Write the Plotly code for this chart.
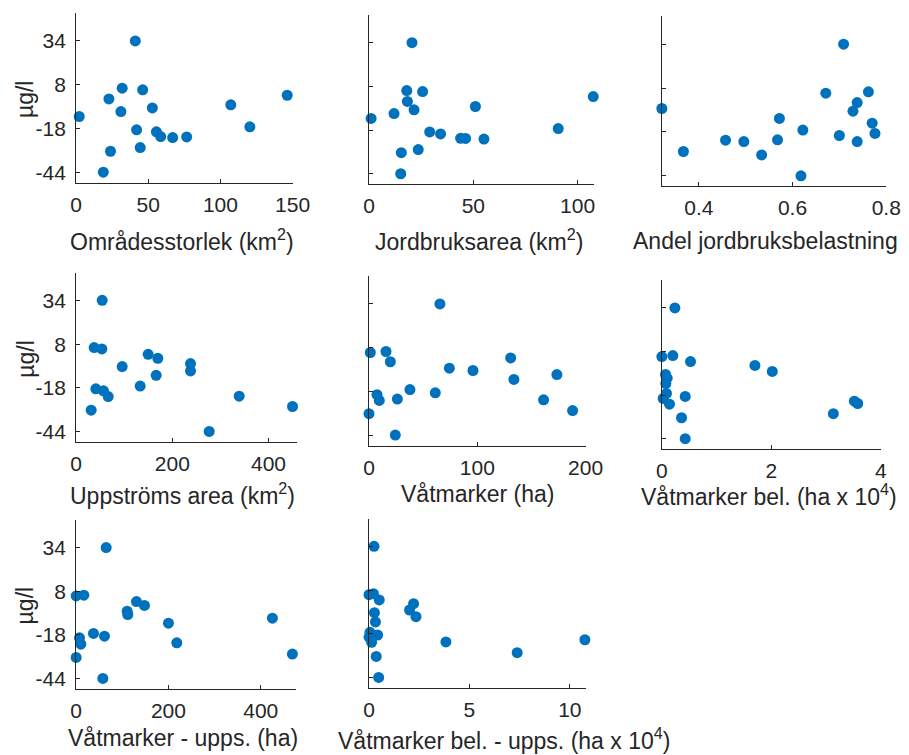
import plotly.graph_objects as go

# ---------------- data ----------------
omr_x = [41.0, 31.9, 46.1, 146.3, 22.7, 107.2, 52.8, 31.0, 2.1, 120.4, 41.9, 55.6, 58.6, 76.6, 66.9, 44.4, 23.8, 18.8]
omr_y = [34, 6.0, 5.0, 1.8, -0.4, -3.9, -5.7, -7.9, -10.8, -16.9, -18.7, -19.9, -22.7, -22.9, -23.3, -29.2, -31.4, -43.8]

jord_x = [20.6, 18.1, 25.7, 107.5, 18.4, 51.0, 21.6, 12.0, 1.0, 90.7, 29.1, 34.3, 43.9, 46.3, 55.1, 23.6, 15.5, 15.2]
jord_y = [34, 5.5, 4.9, 1.9, -1.0, -4.0, -6.0, -8.2, -11.1, -17.1, -19.1, -20.3, -22.9, -23.0, -23.4, -29.6, -31.5, -44]

andel_x = [0.709, 0.671, 0.762, 0.738, 0.729, 0.321, 0.572, 0.770, 0.622, 0.776, 0.700, 0.496, 0.457, 0.568, 0.738, 0.367, 0.534, 0.618]
andel_y = [34, 5.0, 5.8, -0.6, -5.7, -4.1, -10.0, -12.8, -16.9, -18.9, -20.1, -23.7, -22.9, -22.7, -23.7, -29.6, -31.6, -44]

upp_x = [54.1, 37.4, 53.4, 149.7, 169.8, 237.8, 237.8, 95.7, 166.4, 133.1, 40.9, 56.8, 66.6, 339.0, 31.2, 449.9, 276.6]
upp_y = [34, 6.0, 5.2, 2.0, -0.4, -3.5, -7.9, -5.3, -10.5, -16.9, -18.5, -19.7, -23.1, -22.9, -31.2, -29.0, -43.8]

vat_x = [65.5, 1.2, 15.7, 19.7, 130.8, 74.2, 96.0, 133.8, 173.5, 37.8, 61.2, 7.4, 9.5, 26.2, 161.2, 0.0, 188.0, 24.3]
vat_y = [34, 5.1, 5.7, -0.4, 1.9, -4.2, -5.6, -10.9, -8.0, -16.9, -18.9, -20.0, -23.4, -22.6, -23.0, -31.3, -29.4, -44]

vatbel_x = [0.238, 0.0, 0.201, 0.524, 1.701, 2.018, 0.067, 0.098, 0.073, 0.085, 0.427, 0.024, 0.140, 3.518, 3.579, 3.134, 0.360, 0.427]
vatbel_y = [34, 5.0, 5.6, 2.0, -0.3, -3.9, -5.7, -7.9, -11.1, -17.0, -18.8, -20.0, -23.4, -21.6, -23.0, -29.1, -31.5, -44]

vatupp_x = [65.0, 0.0, 16.6, 130.7, 148.0, 110.5, 111.9, 425.3, 200.0, 37.5, 61.4, 7.2, 10.1, 218.1, 0.0, 468.6, 57.8]
vatupp_y = [34, 5.2, 5.6, 1.8, -0.5, -3.9, -5.9, -8.1, -11.1, -17.2, -18.8, -19.8, -23.6, -22.8, -31.5, -29.5, -44]

vatbelupp_x = [0.25, 0.0, 0.22, 0.51, 2.22, 2.02, 2.34, 0.27, 0.32, 0.05, 0.43, 0.0, 0.13, 3.83, 10.75, 7.38, 0.36, 0.48]
vatbelupp_y = [34, 5.2, 5.8, 2.1, -0.1, -3.9, -7.9, -5.5, -11.0, -17.2, -18.8, -20.0, -23.1, -22.9, -21.6, -29.3, -31.5, -44]

y_ticks = [-44, -18, 8, 34]
y_tick_labels = ["-44", "-18", "8", "34"]
y_label = "µg/l"

titles = [
    "Områdesstorlek (km<sup>2</sup>)",
    "Jordbruksarea (km<sup>2</sup>)",
    "Andel jordbruksbelastning",
    "Uppströms area (km<sup>2</sup>)",
    "Våtmarker (ha)",
    "Våtmarker bel. (ha x 10<sup>4</sup>)",
    "Våtmarker - upps. (ha)",
    "Våtmarker bel. - upps. (ha x 10<sup>4</sup>)",
]
x_ticks = [
    [0, 50, 100, 150],
    [0, 50, 100],
    [0.4, 0.6, 0.8],
    [0, 200, 400],
    [0, 100, 200],
    [0, 2, 4],
    [0, 200, 400],
    [0, 5, 10],
]
xs = [omr_x, jord_x, andel_x, upp_x, vat_x, vatbel_x, vatupp_x, vatbelupp_x]
ys = [omr_y, jord_y, andel_y, upp_y, vat_y, vatbel_y, vatupp_y, vatbelupp_y]

# ---------------- layout geometry (target pixels in the screenshot) ----------------
OFF = 8             # page body margin
SX, BX = 0.975, 6   # observed horizontal mapping of the photographed page
W, H = 940, 755
x_ranges = [[0, 150], [0, 107.8], [0.321, 0.8], [0, 458.7], [0, 200], [0, 4], [0, 476.5], [0, 10.8]]
y_range = [-50.2, 50.5]
boxes = [  # left, right, top, bottom
    (76, 292.5, 13.1, 183.2),
    (369, 594, 14.9, 184.4),
    (662, 886.5, 16.4, 186.5),
    (76, 296.7, 272.9, 442.8),
    (369, 585.7, 276.5, 446.1),
    (662, 881, 280.6, 449.7),
    (76, 296, 520.6, 689.7),
    (369, 586, 519.3, 688.7),
]
title_pos = [(182, 240), (479, 240), (766, 241), (182.5, 495), (477.5, 495),
             (769, 496), (183, 739), (504.5, 740)]
ylab_pos = [(25, 99), (25, 359), (25, 606)]


def fx(px):
    return ((px - BX) / SX - OFF) / W


def fy(py):
    return 1 - (py - OFF) / H


FONT = "Liberation Sans, Arial, Helvetica, sans-serif"
TXT = "#262626"
AX = "#262626"
BLUE = "#0072BD"

fig = go.Figure()
layout = dict(
    width=W, height=H,
    margin=dict(l=0, r=0, t=0, b=0),
    paper_bgcolor="white", plot_bgcolor="white",
    showlegend=False,
    font=dict(family=FONT, color=TXT, size=21),
    annotations=[],
)

for i in range(8):
    k = "" if i == 0 else str(i + 1)
    fig.add_trace(go.Scatter(
        x=xs[i], y=ys[i], mode="markers",
        marker=dict(color=BLUE, size=11, line=dict(width=0)),
        xaxis="x" + k, yaxis="y" + k, cliponaxis=False, hoverinfo="skip",
    ))
    l, r, t, b = boxes[i]
    col = i % 3
    layout["xaxis" + k] = dict(
        domain=[fx(l), fx(r)], range=x_ranges[i], anchor="y" + k,
        tickvals=x_ticks[i], ticks="inside", ticklen=4, tickcolor=AX, tickwidth=1,
        showline=True, linecolor=AX, linewidth=1, showgrid=False, zeroline=False,
        tickfont=dict(size=21, color=TXT, family=FONT), ticklabelstandoff=3,
    )
    layout["yaxis" + k] = dict(
        domain=[fy(b), fy(t)], range=y_range, anchor="x" + k,
        tickvals=y_ticks, ticktext=y_tick_labels,
        ticks="inside", ticklen=4, tickcolor=AX, tickwidth=1,
        showline=True, linecolor=AX, linewidth=1, showgrid=False, zeroline=False,
        showticklabels=(col == 0),
        tickfont=dict(size=21, color=TXT, family=FONT), ticklabelstandoff=5,
    )
    cx, cy = title_pos[i]
    layout["annotations"].append(dict(
        text=titles[i], x=fx(cx), y=fy(cy), xref="paper", yref="paper",
        xanchor="center", yanchor="middle", showarrow=False,
        font=dict(size=23, color=TXT, family=FONT),
    ))

for (cx, cy) in ylab_pos:
    layout["annotations"].append(dict(
        text=y_label, x=fx(cx), y=fy(cy), xref="paper", yref="paper",
        xanchor="center", yanchor="middle", showarrow=False, textangle=-90,
        font=dict(size=23, color=TXT, family=FONT),
    ))

fig.update_layout(**layout)
fig.write_html("out.html")
